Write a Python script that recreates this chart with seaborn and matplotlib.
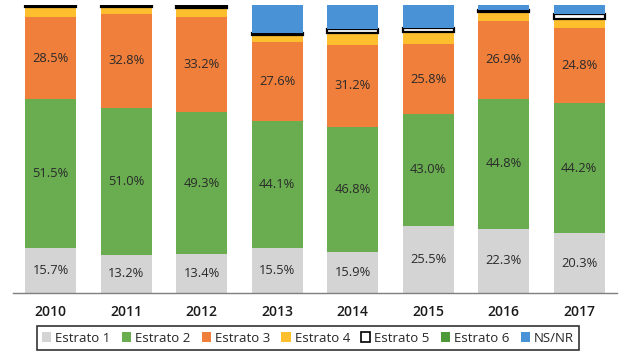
import numpy as np
import pandas as pd
import matplotlib
matplotlib.use("Agg")
import matplotlib.pyplot as plt
from matplotlib.patches import Patch
import seaborn as sns

years = ["2010", "2011", "2012", "2013", "2014", "2015", "2016", "2017"]

# bar heights (share of the bar, %)
estrato1 = [15.7, 13.2, 13.4, 15.5, 14.2, 23.3, 22.3, 20.8]
estrato2 = [51.5, 51.0, 49.3, 44.1, 43.4, 39.0, 45.2, 45.1]
estrato3 = [28.5, 32.8, 33.2, 27.6, 28.6, 24.0, 26.9, 26.0]
estrato4 = [3.6, 2.3, 3.1, 2.3, 4.2, 4.2, 3.2, 3.2]
estrato5 = [0.7, 0.7, 0.7, 0.8, 1.4, 1.4, 0.7, 1.7]
estrato6 = [0, 0, 0, 0, 0, 0, 0, 0]
nsnr = [0, 0, 0, 9.7, 8.2, 8.1, 1.7, 3.2]

# labels printed on the bars
labels1 = ["15.7%", "13.2%", "13.4%", "15.5%", "15.9%", "25.5%", "22.3%", "20.3%"]
labels2 = ["51.5%", "51.0%", "49.3%", "44.1%", "46.8%", "43.0%", "44.8%", "44.2%"]
labels3 = ["28.5%", "32.8%", "33.2%", "27.6%", "31.2%", "25.8%", "26.9%", "24.8%"]

series = [
    ("Estrato 1", estrato1, "#D4D4D4", labels1),
    ("Estrato 2", estrato2, "#6AAD50", labels2),
    ("Estrato 3", estrato3, "#F07F3C", labels3),
    ("Estrato 4", estrato4, "#FDBF2D", None),
    ("Estrato 5", estrato5, "white", None),
    ("Estrato 6", estrato6, "#4E9A3A", None),
    ("NS/NR", nsnr, "#4A92D6", None),
]

sns.set_style("white")
plt.rcParams["font.family"] = ["Open Sans", "DejaVu Sans"]

fig = plt.figure(figsize=(6.24, 3.58), dpi=100)
ax = fig.add_axes([13 / 624, 65 / 358, 604 / 624, 288 / 358])

bottom = np.zeros(len(years))
for name, vals, col, labs in series:
    vals = np.array(vals, dtype=float)
    if name == "Estrato 5":
        sns.barplot(x=years, y=vals, bottom=bottom, color=col, width=0.67,
                    edgecolor="black", linewidth=1.6, saturation=1, ax=ax)
    else:
        sns.barplot(x=years, y=vals, bottom=bottom, color=col, width=0.67,
                    edgecolor="none", linewidth=0, saturation=1, ax=ax)
    if labs is not None:
        for i, t in enumerate(labs):
            ax.text(i, bottom[i] + vals[i] / 2, t, ha="center", va="center",
                    fontsize=9.3, color="#2a2a2a")
    bottom += vals

ax.set_xlim(-0.5, len(years) - 0.5)
ax.set_ylim(0, 100)
ax.set_xlabel("")
ax.set_ylabel("")
ax.set_yticks([])
for s in ["top", "right", "left"]:
    ax.spines[s].set_visible(False)
ax.spines["bottom"].set_color("#7f7f7f")
ax.spines["bottom"].set_linewidth(1)
ax.set_xticks(range(len(years)))
ax.set_xticklabels(years, fontsize=10, fontweight="semibold", color="#1a1a1a")
ax.tick_params(axis="x", which="major", length=0, pad=9)
ax.set_xticks(np.arange(-0.5, len(years)), minor=True)
ax.tick_params(axis="x", which="minor", length=5, color="#7f7f7f", width=1)

handles = []
for name, vals, col, labs in series:
    if name == "Estrato 5":
        handles.append(Patch(facecolor="white", edgecolor="black", linewidth=1.2, label=name))
    else:
        handles.append(Patch(facecolor=col, edgecolor="none", label=name))
leg = fig.legend(handles=handles, loc="center", bbox_to_anchor=(308 / 624, 20 / 358),
                 ncol=7, frameon=True, fancybox=False, fontsize=9.5,
                 handlelength=0.7, handleheight=0.7, handletextpad=0.3,
                 columnspacing=0.85, borderpad=0.4)
leg.get_frame().set_edgecolor("black")
leg.get_frame().set_linewidth(1.2)

fig.savefig("out.png", dpi=100)
